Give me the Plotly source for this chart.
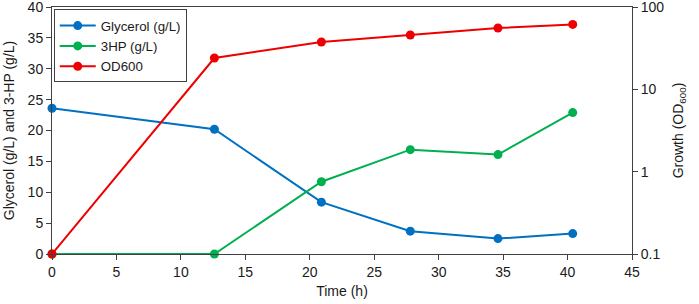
import plotly.graph_objects as go

time_h = [0, 12.6, 20.9, 27.8, 34.6, 40.4]
glycerol = [23.6, 20.2, 8.4, 3.7, 2.5, 3.3]
hp3 = [0, 0, 11.7, 16.9, 16.1, 22.9]
od600 = [0.1, 24, 37.6, 45.7, 55.6, 61.5]

FONT = "Liberation Sans, Arial, sans-serif"
AX = "#404040"

fig = go.Figure()
fig.add_trace(go.Scatter(x=time_h, y=glycerol, name="Glycerol (g/L)", mode="lines+markers",
                         line=dict(color="#0070C0", width=2), marker=dict(size=9, color="#0070C0"),
                         cliponaxis=False))
fig.add_trace(go.Scatter(x=time_h, y=hp3, name="3HP (g/L)", mode="lines+markers",
                         line=dict(color="#00B050", width=2), marker=dict(size=9, color="#00B050"),
                         cliponaxis=False))
fig.add_trace(go.Scatter(x=time_h, y=od600, name="OD600", mode="lines+markers", yaxis="y2",
                         line=dict(color="#EE0000", width=2), marker=dict(size=9, color="#EE0000"),
                         cliponaxis=False))

fig.update_layout(
    width=699, height=304,
    margin=dict(l=52, r=67, t=7, b=50),
    plot_bgcolor="white", paper_bgcolor="white",
    font=dict(family=FONT, size=14, color="#1a1a1a"),
    showlegend=True,
    legend=dict(x=0.003, y=0.99, xanchor="left", yanchor="top",
                bordercolor=AX, borderwidth=1, bgcolor="white",
                font=dict(size=13.3), tracegroupgap=0, itemwidth=36),
    xaxis=dict(range=[0, 45], dtick=5, showgrid=False, zeroline=False, automargin=False,
               showline=True, linecolor=AX, linewidth=1, mirror=True,
               ticks="outside", ticklen=5, tickcolor=AX, ticklabeloverflow="allow",
               title=dict(text="Time (h)", font=dict(size=14), standoff=7)),
    yaxis=dict(range=[0, 40], dtick=5, showgrid=False, zeroline=False, automargin=False,
               showline=True, linecolor=AX, linewidth=1, ticklabeloverflow="allow",
               ticks="outside", ticklen=5, tickcolor=AX,
               title=dict(text="Glycerol (g/L) and 3-HP (g/L)", font=dict(size=14), standoff=9)),
    yaxis2=dict(type="log", range=[-1, 2], overlaying="y", side="right", automargin=False,
                showgrid=False, zeroline=False, showline=True, linecolor=AX, linewidth=1,
                ticks="outside", ticklen=5, tickcolor=AX, ticklabeloverflow="allow",
                tickvals=[0.1, 1, 10, 100], ticktext=["0.1", "1", "10", "100"],
                title=dict(text="Growth (OD<sub>600</sub>)", font=dict(size=14), standoff=9)),
)

fig.write_html("out.html", config={"displayModeBar": False},
               post_script="document.body.style.margin='0';document.body.style.padding='0';document.body.style.overflow='hidden';")
